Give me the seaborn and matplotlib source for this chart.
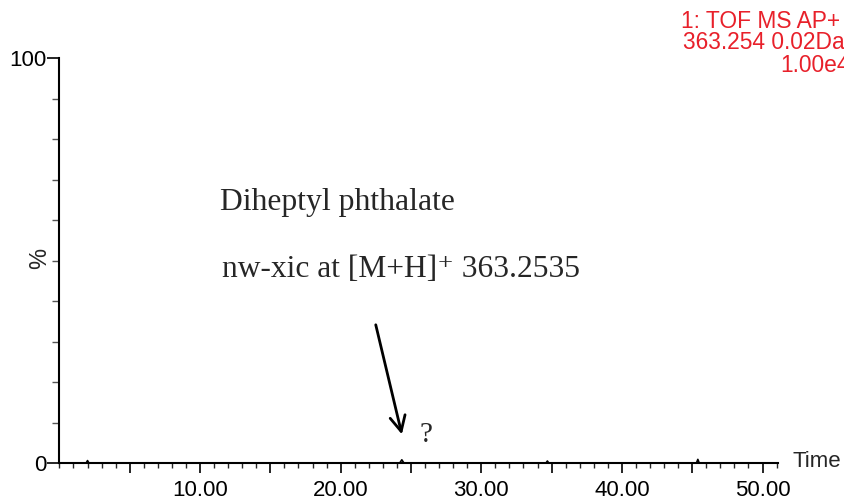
import matplotlib
matplotlib.use("Agg")
import matplotlib.pyplot as plt
import seaborn as sns
import pandas as pd
import numpy as np
from matplotlib.ticker import MultipleLocator, FixedLocator

# ---- data ----
time_min = [0.0, 1.9, 2.0, 2.1, 24.2, 24.35, 24.5, 34.6, 34.7, 34.8, 45.3, 45.4, 45.5, 51.1]
intensity_pct = [0.0, 0.0, 0.6, 0.0, 0.0, 0.8, 0.0, 0.0, 0.5, 0.0, 0.0, 0.9, 0.0, 0.0]
x_major_ticks = [10, 20, 30, 40, 50]
x_tick_labels = ["10.00", "20.00", "30.00", "40.00", "50.00"]
y_tick_vals = [0, 100]
y_tick_labels = ["0", "100"]
header_lines = ["1: TOF MS AP+", "363.254 0.02Da", "1.00e4"]
compound_name = "Diheptyl phthalate"
xic_label = "nw-xic at [M+H]\u207a 363.2535"

sns.set_style("ticks")
plt.rcParams['font.family'] = ['Liberation Sans', 'DejaVu Sans']

fig = plt.figure(figsize=(8.45, 5.01), dpi=100)
ax = fig.add_axes([0.0703, 0.0758, 0.8504, 0.8084])

df = pd.DataFrame({"Time": time_min, "Intensity": intensity_pct})
sns.lineplot(data=df, x="Time", y="Intensity", ax=ax, color="black", linewidth=1.2)

ax.set_xlim(0, 51.1)
ax.set_ylim(0, 100)
ax.set_xlabel("")
ax.set_ylabel("")

for s in ["top", "right"]:
    ax.spines[s].set_visible(False)
for s in ["left", "bottom"]:
    ax.spines[s].set_linewidth(1.5)
    ax.spines[s].set_color("black")

# x ticks
major_x = [5, 10, 15, 20, 25, 30, 35, 40, 45, 50]
ax.xaxis.set_major_locator(FixedLocator(major_x))
ax.set_xticklabels([x_tick_labels[x_major_ticks.index(v)] if v in x_major_ticks else "" for v in major_x])
ax.xaxis.set_minor_locator(MultipleLocator(1))
ax.tick_params(axis="x", which="major", direction="out", length=7, width=1.2, pad=5,
               labelsize=16, colors="black")
ax.tick_params(axis="x", which="minor", direction="out", length=3.5, width=1.0)

# y ticks
ax.yaxis.set_major_locator(FixedLocator(y_tick_vals))
ax.set_yticklabels(y_tick_labels)
ax.yaxis.set_minor_locator(MultipleLocator(10))
ax.tick_params(axis="y", which="major", direction="out", length=8.5, width=1.2, pad=1,
               labelsize=16, colors="black")
ax.tick_params(axis="y", which="minor", direction="out", length=5, width=1.0, color="#555555")

# % label
ax.text(-0.0265, 50.6, "%", transform=ax.get_yaxis_transform(), rotation=90,
        ha="center", va="center", fontsize=17)

# Time label
ax.text(52.1, 0.4, "Time", ha="left", va="center", fontsize=16, clip_on=False)

# annotation texts
serif = ['Liberation Serif', 'DejaVu Serif']
ax.text(11.4, 62.5, compound_name, ha="left", va="baseline", fontsize=22.8, family=serif)
ax.text(11.56, 45.9, xic_label, ha="left", va="baseline", fontsize=22.7, family=serif)

ax.annotate("", xy=(24.4, 6.4), xytext=(22.45, 34.8),
            arrowprops=dict(arrowstyle="->,head_length=1.1,head_width=0.55", lw=2, color="black"))
ax.text(26.1, 6.9, "?", ha="center", va="center", fontsize=21, family=serif)

# header (red)
red = "#e8202a"
for line, xr, yb in zip(header_lines, [0.9941, 1.0, 1.0059], [1 - 28 / 501, 1 - 49 / 501, 1 - 72 / 501]):
    fig.text(xr, yb, line, ha="right", va="baseline", fontsize=16.4, color=red)

fig.savefig("out.png", dpi=100)
